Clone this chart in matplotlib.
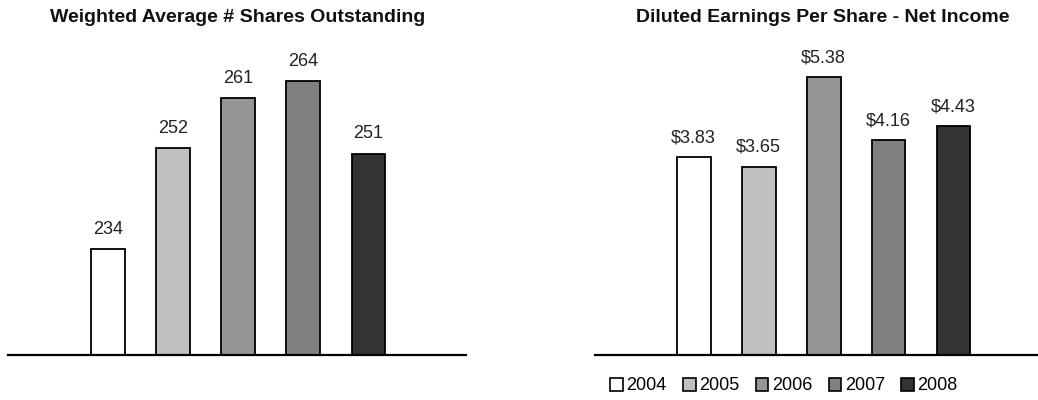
import numpy as np
import matplotlib
matplotlib.use("Agg")
import matplotlib.pyplot as plt
from matplotlib.patches import Patch

plt.rcParams['font.family'] = ['Liberation Sans', 'DejaVu Sans']

# data
years = ['2004', '2005', '2006', '2007', '2008']
shares = [234, 252, 261, 264, 251]
eps = [3.83, 3.65, 5.38, 4.16, 4.43]
colors = ['#ffffff', '#c0c0c0', '#969696', '#808080', '#333333']

W, H = 1038, 400
fig = plt.figure(figsize=(W / 100, H / 100), dpi=100)

def px_axes(x0, x1, ytop, ybot):
    return fig.add_axes([x0 / W, 1 - ybot / H, (x1 - x0) / W, (ybot - ytop) / H])

def style(ax):
    for s in ['top', 'right', 'left']:
        ax.spines[s].set_visible(False)
    ax.spines['bottom'].set_linewidth(1.6)
    ax.spines['bottom'].set_color('black')
    ax.set_xticks([])
    ax.set_yticks([])
    ax.patch.set_alpha(0)

x = np.arange(len(years))

# left panel - shares
ax1 = px_axes(8, 466, 40, 355)
ax1.bar(x, shares, width=0.52, color=colors, edgecolor='black', linewidth=1.3)
ax1.set_xlim(-1.54, 5.5)
ax1.set_ylim(215, 271.3)
for i, v in enumerate(shares):
    ax1.annotate(str(v), (x[i], v), xytext=(0, 8), textcoords='offset points',
                 ha='center', va='bottom', fontsize=13, color='#222222')
style(ax1)
fig.text(238 / W, 1 - 17 / H, 'Weighted Average # Shares Outstanding', ha='center', va='center',
         fontsize=14, fontweight='bold', color='#111111')

# right panel - EPS
ax2 = px_axes(595, 1038, 40, 355)
ax2.bar(x, eps, width=0.52, color=colors, edgecolor='black', linewidth=1.3)
ax2.set_xlim(-1.52, 5.3)
ax2.set_ylim(0, 6.10)
for i, v in enumerate(eps):
    ax2.annotate('$%.2f' % v, (x[i], v), xytext=(0, 8), textcoords='offset points',
                 ha='center', va='bottom', fontsize=13, color='#222222')
style(ax2)
fig.text(823 / W, 1 - 17 / H, 'Diluted Earnings Per Share - Net Income', ha='center', va='center',
         fontsize=14, fontweight='bold', color='#111111')

handles = [Patch(facecolor=c, edgecolor='black', linewidth=1.2) for c in colors]
fig.legend(handles, years, loc='center', bbox_to_anchor=(784 / W, 1 - 386 / H), ncol=5,
           frameon=False, fontsize=13, handlelength=0.7, handleheight=0.7,
           handletextpad=0.2, columnspacing=0.9)

fig.savefig('out.png', dpi=100)
